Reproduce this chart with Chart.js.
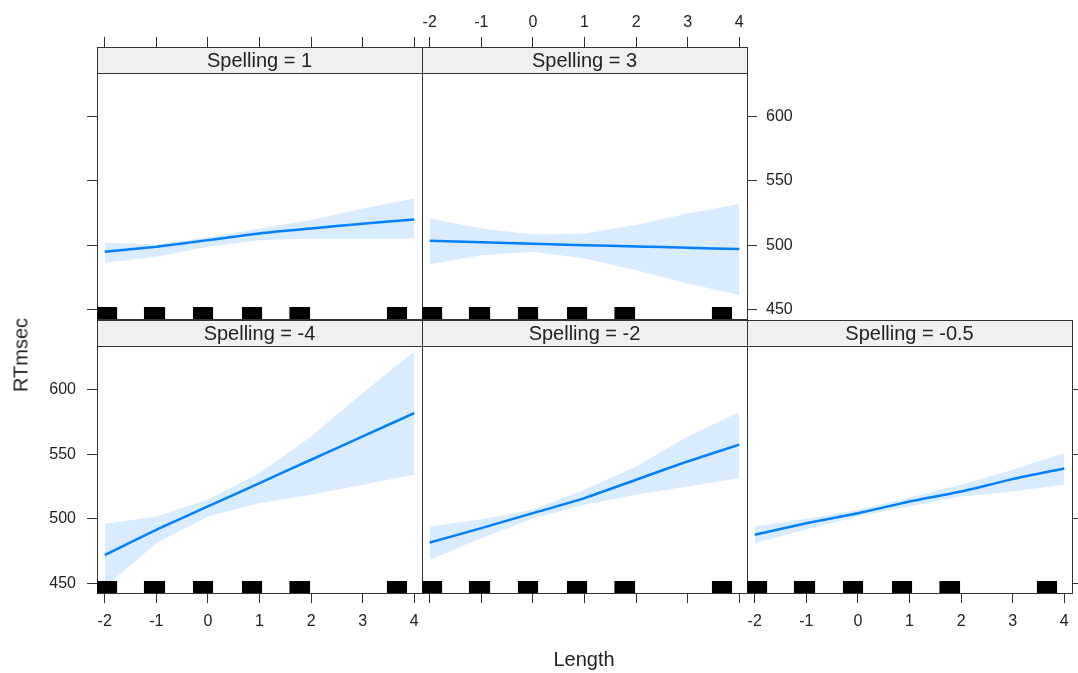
<!DOCTYPE html>
<html>
<head>
<meta charset="utf-8">
<title>RTmsec by Length and Spelling</title>
<script src="https://cdn.jsdelivr.net/npm/chart.js@4/dist/chart.umd.min.js"></script>
<style>
  html, body { margin: 0; padding: 0; background: #ffffff; }
  #wrap { position: relative; width: 1078px; height: 673px; overflow: hidden; background: #ffffff; }
  #wrap canvas { position: absolute; left: 0; top: 0; }
  .axis-title { position: absolute; font-family: "Liberation Sans", Arial, sans-serif; font-size: 20px; color: #222; white-space: nowrap; }
  #xtitle { left: 584px; top: 659px; transform: translate(-50%, -50%); }
  #ytitle { left: 21px; top: 355px; transform: translate(-50%, -50%) rotate(-90deg); }
</style>
</head>
<body>
<div id="wrap">
  <canvas id="p0" width="1078" height="673"></canvas>
  <canvas id="p1" width="1078" height="673"></canvas>
  <canvas id="p2" width="1078" height="673"></canvas>
  <canvas id="p3" width="1078" height="673"></canvas>
  <canvas id="p4" width="1078" height="673"></canvas>
  <div class="axis-title" id="xtitle">Length</div>
  <div class="axis-title" id="ytitle">RTmsec</div>
</div>
<script>
// ---- data ----
const lengthGrid = [-2, -1, 0, 1, 2, 3, 4];
const xTickValues = [-2, -1, 0, 1, 2, 3, 4];
const xTickLabels = ['-2', '-1', '0', '1', '2', '3', '4'];
const yTickValues = [450, 500, 550, 600];
const yTickLabels = ['450', '500', '550', '600'];
const spellingLevels = ['1', '3', '-4', '-2', '-0.5'];

// fitted RTmsec and confidence band for each Spelling level
const fitSp1   = [494.9, 498.8, 503.9, 509.1, 513.0, 516.6, 520.0];
const lowSp1   = [486.3, 491.0, 498.8, 503.9, 505.2, 505.2, 505.2];
const upSp1    = [501.9, 500.5, 506.2, 513.0, 519.5, 528.6, 536.4];

const fitSp3   = [503.4, 502.3, 501.1, 500.0, 499.0, 498.0, 496.9];
const lowSp3   = [485.2, 492.2, 494.8, 489.6, 480.5, 470.1, 461.1];
const upSp3    = [520.8, 513.0, 508.3, 509.1, 515.6, 524.7, 532.0];

const fitSpM4  = [472.0, 491.5, 509.6, 527.7, 545.8, 563.9, 582.0];
const lowSpM4  = [447.0, 481.1, 501.8, 512.2, 518.6, 526.4, 534.2];
const upSpM4   = [495.9, 501.8, 514.8, 535.5, 563.9, 597.6, 629.9];

const fitSpM2  = [481.6, 492.8, 504.4, 516.1, 530.3, 544.5, 557.5];
const lowSpM2  = [468.2, 485.0, 500.5, 510.9, 518.6, 525.1, 531.6];
const upSpM2   = [494.0, 499.7, 507.0, 522.5, 540.6, 563.9, 582.8];

const fitSpM05 = [487.6, 496.6, 504.4, 513.4, 521.2, 530.8, 539.0];
const lowSpM05 = [481.1, 492.0, 501.8, 509.5, 517.3, 521.2, 526.4];
const upSpM05  = [494.0, 500.0, 507.0, 516.5, 526.4, 538.0, 551.0];

// observed Length values (rug), as [from, to] spans
const rugSpans = [[-2.25, -1.76], [-1.24, -0.83], [-0.29, 0.10], [0.66, 1.05], [1.58, 1.98], [3.47, 3.86]];

// ---- layout / style ----
const W = 1078, H = 673;
const colLeft = [97, 422, 747];
const colWidth = 325;
const rowTop = [73, 346];
const rowBottom = [319, 593];
const xRange = [-2.15, 4.15];
const yRange = [442.5, 634];
const stripH = 26;
const rugH = 12;
const tickLen = 10;
const ink = '#333333';
const textInk = '#222222';
const lineBlue = '#0080ff';
const bandBlue = 'rgba(0,128,255,0.15)';
const fontFamily = '"Liberation Sans", Arial, sans-serif';

const panels = [
  { id: 'p0', level: spellingLevels[0], col: 0, row: 0, fit: fitSp1, low: lowSp1, up: upSp1,
    top: { ticks: true, labels: false }, left: { ticks: true, labels: false },
    right: { ticks: false, labels: false }, bottom: { ticks: false, labels: false } },
  { id: 'p1', level: spellingLevels[1], col: 1, row: 0, fit: fitSp3, low: lowSp3, up: upSp3,
    top: { ticks: true, labels: true }, left: { ticks: false, labels: false },
    right: { ticks: true, labels: true }, bottom: { ticks: false, labels: false } },
  { id: 'p2', level: spellingLevels[2], col: 0, row: 1, fit: fitSpM4, low: lowSpM4, up: upSpM4,
    top: { ticks: false, labels: false }, left: { ticks: true, labels: true },
    right: { ticks: false, labels: false }, bottom: { ticks: true, labels: true } },
  { id: 'p3', level: spellingLevels[3], col: 1, row: 1, fit: fitSpM2, low: lowSpM2, up: upSpM2,
    top: { ticks: false, labels: false }, left: { ticks: false, labels: false },
    right: { ticks: false, labels: false }, bottom: { ticks: true, labels: false } },
  { id: 'p4', level: spellingLevels[4], col: 2, row: 1, fit: fitSpM05, low: lowSpM05, up: upSpM05,
    top: { ticks: false, labels: false }, left: { ticks: false, labels: false },
    right: { ticks: true, labels: false }, bottom: { ticks: true, labels: true } }
];

// strip above each panel and rug along its bottom edge
const panelDecor = {
  id: 'panelDecor',
  afterDatasetsDraw(chart, args, opts) {
    const { ctx, chartArea } = chart;
    const xs = chart.scales.x;
    ctx.save();
    ctx.beginPath();
    ctx.rect(chartArea.left, chartArea.top, chartArea.right - chartArea.left, chartArea.bottom - chartArea.top);
    ctx.clip();
    ctx.fillStyle = '#000000';
    opts.rug.forEach(([a, b]) => {
      const x0 = xs.getPixelForValue(a);
      const x1 = xs.getPixelForValue(b);
      ctx.fillRect(x0, chartArea.bottom - rugH, x1 - x0, rugH);
    });
    ctx.restore();
  },
  afterDraw(chart, args, opts) {
    const { ctx, chartArea } = chart;
    const l = chartArea.left, r = chartArea.right;
    const t = chartArea.top - stripH;
    ctx.save();
    ctx.fillStyle = '#f0f0f0';
    ctx.fillRect(l, t, r - l, stripH);
    ctx.strokeStyle = ink;
    ctx.lineWidth = 1;
    ctx.strokeRect(l + 0.5, t + 0.5, r - l, stripH);
    ctx.fillStyle = textInk;
    ctx.font = '20px ' + fontFamily;
    ctx.textAlign = 'center';
    ctx.textBaseline = 'middle';
    ctx.fillText(opts.label, (l + r) / 2, t + stripH / 2 + 1);
    ctx.restore();
  }
};

// tick labels are clipped to the axis box, so each axis gets room for them
function xAxis(position, spec, size) {
  const tl = position === 'top' ? stripH + tickLen : tickLen;
  return {
    type: 'linear', position, min: xRange[0], max: xRange[1],
    afterFit: s => { s.height = size; },
    afterBuildTicks: s => { s.ticks = xTickValues.map(v => ({ value: v })); },
    grid: { display: spec.ticks, drawOnChartArea: false, drawTicks: spec.ticks, tickLength: tl, color: ink, lineWidth: 1 },
    border: { display: true, color: ink, width: 1 },
    ticks: {
      display: spec.labels, padding: position === 'top' ? 5 : 9, maxRotation: 0, autoSkip: false,
      color: textInk, font: { family: fontFamily, size: 16 },
      callback: v => xTickLabels[xTickValues.indexOf(v)]
    }
  };
}

function yAxis(position, spec, size) {
  return {
    type: 'linear', position, min: yRange[0], max: yRange[1],
    afterFit: s => { s.width = size; },
    afterBuildTicks: s => { s.ticks = yTickValues.map(v => ({ value: v })); },
    grid: { display: spec.ticks, drawOnChartArea: false, drawTicks: spec.ticks, tickLength: tickLen, color: ink, lineWidth: 1 },
    border: { display: true, color: ink, width: 1 },
    ticks: {
      display: spec.labels, padding: position === 'left' ? 11 : 9, autoSkip: false,
      color: textInk, font: { family: fontFamily, size: 16 },
      callback: v => yTickLabels[yTickValues.indexOf(v)]
    }
  };
}

panels.forEach(p => {
  const L = colLeft[p.col], R = L + colWidth;
  const T = rowTop[p.row], B = rowBottom[p.row];
  const leftW = 60, rightW = Math.min(60, W - R), topH = 70, botH = 60;
  const pts = arr => lengthGrid.map((x, i) => ({ x, y: arr[i] }));
  new Chart(document.getElementById(p.id), {
    type: 'line',
    data: {
      datasets: [
        { label: 'upper', data: pts(p.up), borderWidth: 0, pointRadius: 0, fill: '+1', backgroundColor: bandBlue, borderColor: 'rgba(0,0,0,0)' },
        { label: 'lower', data: pts(p.low), borderWidth: 0, pointRadius: 0, fill: false, borderColor: 'rgba(0,0,0,0)' },
        { label: 'fit', data: pts(p.fit), borderWidth: 2.5, pointRadius: 0, fill: false, borderColor: lineBlue, tension: 0.2 }
      ]
    },
    options: {
      responsive: false,
      animation: false,
      devicePixelRatio: 1,
      events: [],
      layout: { padding: { left: L - leftW, right: W - R - rightW, top: T - topH, bottom: H - B - botH } },
      plugins: {
        legend: { display: false },
        tooltip: { enabled: false },
        panelDecor: { label: 'Spelling = ' + p.level, rug: rugSpans }
      },
      scales: {
        x: xAxis('bottom', p.bottom, botH),
        x2: xAxis('top', p.top, topH),
        y: yAxis('left', p.left, leftW),
        y2: yAxis('right', p.right, rightW)
      }
    },
    plugins: [panelDecor]
  });
});
</script>
</body>
</html>
